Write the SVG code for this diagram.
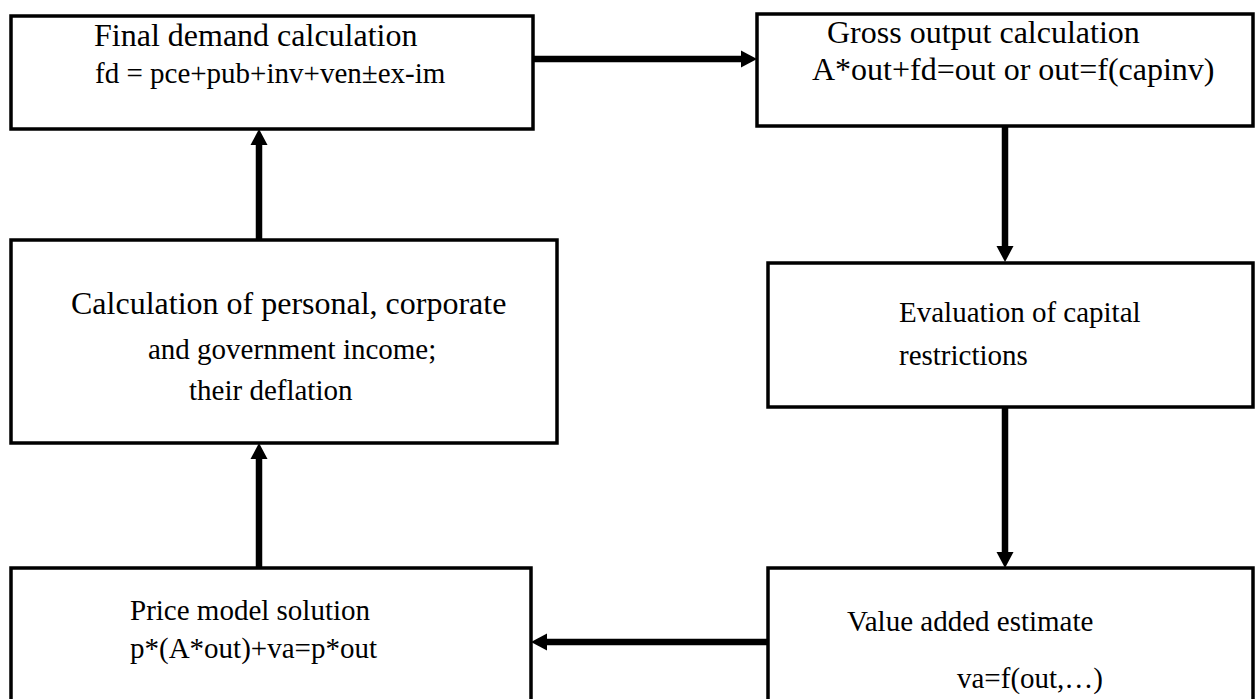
<svg xmlns="http://www.w3.org/2000/svg" width="1259" height="699" viewBox="0 0 1259 699">
<style>
.box{fill:#fff;stroke:#000;stroke-width:3.5}
.t{font-family:"Liberation Serif","Times New Roman",serif;fill:#000}
.big{font-size:32px}
.sm{font-size:29px}
.shaft{stroke:#000;stroke-width:6.5;fill:none}
.head{fill:#000}
</style>
<rect width="1259" height="699" fill="#fff"/>
<g id="connectors">
<line class="shaft" x1="533" y1="59" x2="742" y2="59"/>
<polygon class="head" points="757,59 741,50.5 741,67.5"/>
<line class="shaft" x1="1005" y1="126" x2="1005" y2="247"/>
<polygon class="head" points="1005,262 996.5,246 1013.5,246"/>
<line class="shaft" x1="1005" y1="407" x2="1005" y2="553"/>
<polygon class="head" points="1005,568 996.5,552 1013.5,552"/>
<line class="shaft" x1="768" y1="642" x2="546" y2="642"/>
<polygon class="head" points="531,642 547,633.5 547,650.5"/>
<line class="shaft" x1="259" y1="568" x2="259" y2="458"/>
<polygon class="head" points="259,443 250.5,459 267.5,459"/>
<line class="shaft" x1="259" y1="240" x2="259" y2="144"/>
<polygon class="head" points="259,129 250.5,145 267.5,145"/>
</g>
<g id="final-demand">
<rect class="box" x="11" y="16" width="522" height="113"/>
<text class="t big" x="94" y="46">Final demand calculation</text>
<text class="t sm" x="95" y="83">fd = pce+pub+inv+ven±ex-im</text>
</g>
<g id="gross-output">
<rect class="box" x="757" y="14" width="496" height="112"/>
<text class="t big" x="827" y="43">Gross output calculation</text>
<text class="t big" x="812" y="80">A*out+fd=out or out=f(capinv)</text>
</g>
<g id="income">
<rect class="box" x="11" y="240" width="546" height="203"/>
<text class="t big" x="71" y="314">Calculation of personal, corporate</text>
<text class="t sm" x="148" y="359">and government income;</text>
<text class="t sm" x="189" y="400">their deflation</text>
</g>
<g id="capital">
<rect class="box" x="768" y="263" width="485" height="144"/>
<text class="t sm" x="899" y="322">Evaluation of capital</text>
<text class="t sm" x="899" y="365">restrictions</text>
</g>
<g id="price-model">
<rect class="box" x="11" y="568" width="520" height="145"/>
<text class="t sm" x="130" y="620">Price model solution</text>
<text class="t sm" x="130" y="658">p*(A*out)+va=p*out</text>
</g>
<g id="value-added">
<rect class="box" x="768" y="568" width="485" height="145"/>
<text class="t sm" x="847" y="631">Value added estimate</text>
<text class="t sm" x="957" y="688">va=f(out,…)</text>
</g>
</svg>
